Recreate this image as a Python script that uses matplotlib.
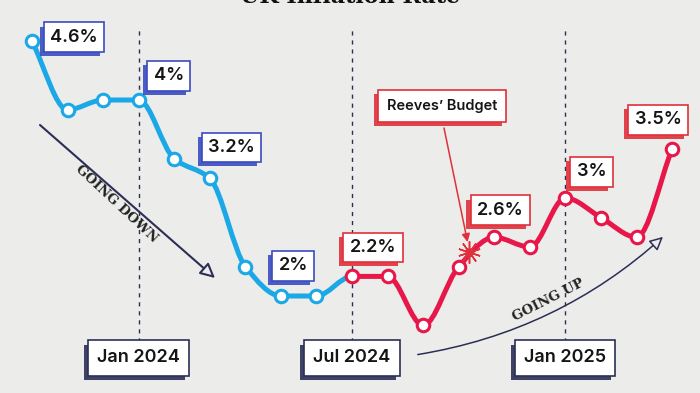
"""
UK inflation rate, hand-drawn paper style.
"""

import numpy as np
import matplotlib
matplotlib.use('Agg')
import matplotlib.pyplot as plt
import matplotlib.patheffects as pe
from matplotlib.path import Path
from matplotlib.patches import PathPatch, FancyArrowPatch

# --- Data ---

MONTHS = ['Oct 2023', 'Nov 2023', 'Dec 2023', 'Jan 2024', 'Feb 2024', 'Mar 2024',
          'Apr 2024', 'May 2024', 'Jun 2024', 'Jul 2024', 'Aug 2024', 'Sep 2024',
          'Oct 2024', 'Nov 2024', 'Dec 2024', 'Jan 2025', 'Feb 2025', 'Mar 2025',
          'Apr 2025']
RATE = [4.6, 3.9, 4.0, 4.0, 3.4, 3.2, 2.3, 2.0, 2.0, 2.2, 2.2, 1.7, 2.3, 2.6,
        2.5, 3.0, 2.8, 2.6, 3.5]
SPLIT = 9                      # first month of the red (rising) part
LABELLED = [0, 3, 5, 8, 9, 13, 15, 18]
DATE_MARKS = ['Jan 2024', 'Jul 2024', 'Jan 2025']
BUDGET_POS = 12.3              # Reeves' Budget, end of Oct 2024

# --- Style ---

PAPER = '#ececea'
BLUE = '#1ba8e6'
RED = '#e8174a'
BLUE_BOX = '#3b4cc0'
RED_BOX = '#e0303c'
NAVY = '#2b2f55'
FONT = 'Inter'


def px(x, y):
    """pixel position in the 700x393 picture -> data coords"""
    return (x - 32) / 35.56, 2 + (296 - y) / 98


def tangents(y):
    d = np.diff(y)
    m = np.zeros(len(y))
    m[0], m[-1] = d[0], d[-1]
    for k in range(1, len(y) - 1):
        if d[k - 1] * d[k] > 0:
            m[k] = 2 / (1 / d[k - 1] + 1 / d[k])
    return m


def segment_path(x, y, m, a, b):
    verts = [(x[a], y[a])]
    codes = [Path.MOVETO]
    for k in range(a, b):
        verts += [(x[k] + 1 / 3, y[k] + m[k] / 3),
                  (x[k + 1] - 1 / 3, y[k + 1] - m[k + 1] / 3),
                  (x[k + 1], y[k + 1])]
        codes += [Path.CURVE4] * 3
    return Path(verts, codes)


def boxed(ax, text, xy, off, color, size, w_pad=0.35):
    ann = ax.annotate(text, xy, xytext=off, textcoords='offset pixels',
                      ha='center', va='center', fontsize=size, fontfamily=FONT,
                      fontweight='semibold', color='#151515', zorder=7,
                      bbox=dict(boxstyle=f'square,pad={w_pad}', fc='white', ec=color, lw=1.2))
    # offset shadow down-left, like a misprinted stamp
    ann.get_bbox_patch().set_path_effects([
        pe.SimplePatchShadow(offset=(-3, -3), shadow_rgbFace=color, alpha=0.9),
        pe.Normal()])
    return ann


fig = plt.figure(figsize=(7, 3.93), dpi=100, facecolor=PAPER)
ax = fig.add_axes([0, 0, 1, 1])
ax.set_facecolor(PAPER)
x0, y_top = px(0, 0)
x1, y_bot = px(700, 393)
ax.set_xlim(x0, x1)
ax.set_ylim(y_bot, y_top)
ax.axis('off')

# title, mostly cut off at the top
fig.text(0.5, 0.992, 'UK Inflation Rate', ha='center', va='baseline',
         fontsize=16, fontweight='bold', fontfamily='DejaVu Serif', color='#111111')

xs = np.arange(len(RATE))
ys = np.array(RATE)
m = tangents(ys)

# dashed month guides + date boxes
_, g_top = px(0, 30)
_, g_bot = px(0, 342)
_, d_y = px(0, 358)
for label in DATE_MARKS:
    i = MONTHS.index(label)
    ax.vlines(i, g_bot, g_top, colors=NAVY, linestyles=(0, (3, 3.5)), lw=1, zorder=1)
    boxed(ax, label, (i, d_y), (0, 0), NAVY, 13, w_pad=0.5)

# line
ax.add_patch(PathPatch(segment_path(xs, ys, m, 0, SPLIT), fc='none', ec=BLUE,
                       lw=3.6, capstyle='round', joinstyle='round', zorder=3))
ax.add_patch(PathPatch(segment_path(xs, ys, m, SPLIT, len(ys) - 1), fc='none', ec=RED,
                       lw=3.6, capstyle='round', joinstyle='round', zorder=3))
ax.plot(xs[:SPLIT], ys[:SPLIT], 'o', ms=9, mfc='white', mec=BLUE, mew=2.2, zorder=4)
ax.plot(xs[SPLIT:], ys[SPLIT:], 'o', ms=9, mfc='white', mec=RED, mew=2.2, zorder=4)

# value labels
offsets = {0: (42, 4), 3: (30, 24), 5: (22, 31), 8: (-23, 30),
           9: (21, 29), 13: (6, 27), 15: (26, 26), 18: (-14, 29)}
for i in LABELLED:
    color = BLUE_BOX if i < SPLIT else RED_BOX
    boxed(ax, f'{RATE[i]:g}%', (i, RATE[i]), offsets[i], color, 13)

# Reeves' Budget marker
b_val = np.interp(BUDGET_POS, xs, ys) + 0.06
ax.plot(BUDGET_POS, b_val, marker=(10, 2, 0), ms=16, mec=RED_BOX, mew=1.1, zorder=5)
ax.plot(BUDGET_POS, b_val, 'o', ms=5, color=RED_BOX, zorder=5)
ax.annotate('', (BUDGET_POS - 0.05, b_val + 0.1), xytext=px(444, 128),
            arrowprops=dict(arrowstyle='-|>', color=RED_BOX, lw=1.1,
                            mutation_scale=12, shrinkA=0, shrinkB=0), zorder=5)
boxed(ax, 'Reeves\u2019 Budget', px(442, 106), (0, 0), RED_BOX, 10.5, w_pad=0.6)

# GOING DOWN arrow
ax.annotate('', px(215, 278), xytext=px(40, 125),
            arrowprops=dict(arrowstyle='-|>', color=NAVY, lw=1.5, fc=PAPER,
                            mutation_scale=22, shrinkA=0, shrinkB=0), zorder=2)
ax.text(*px(117, 204), 'GOING DOWN', rotation=-43, ha='center', va='center',
        fontsize=9.5, fontweight='bold', fontfamily='DejaVu Serif', color='#222222', zorder=2)

# GOING UP arrow
ax.add_patch(FancyArrowPatch(px(415, 355), px(665, 235), connectionstyle='arc3,rad=0.15',
                             arrowstyle='-|>', color=NAVY, lw=1.1, fc=PAPER,
                             mutation_scale=20, zorder=2))
ax.text(*px(548, 300), 'GOING UP', rotation=27, ha='center', va='center',
        fontsize=9.5, fontweight='bold', fontfamily='DejaVu Serif', color='#222222', zorder=2)

fig.savefig('out.png', dpi=100, facecolor=PAPER)
